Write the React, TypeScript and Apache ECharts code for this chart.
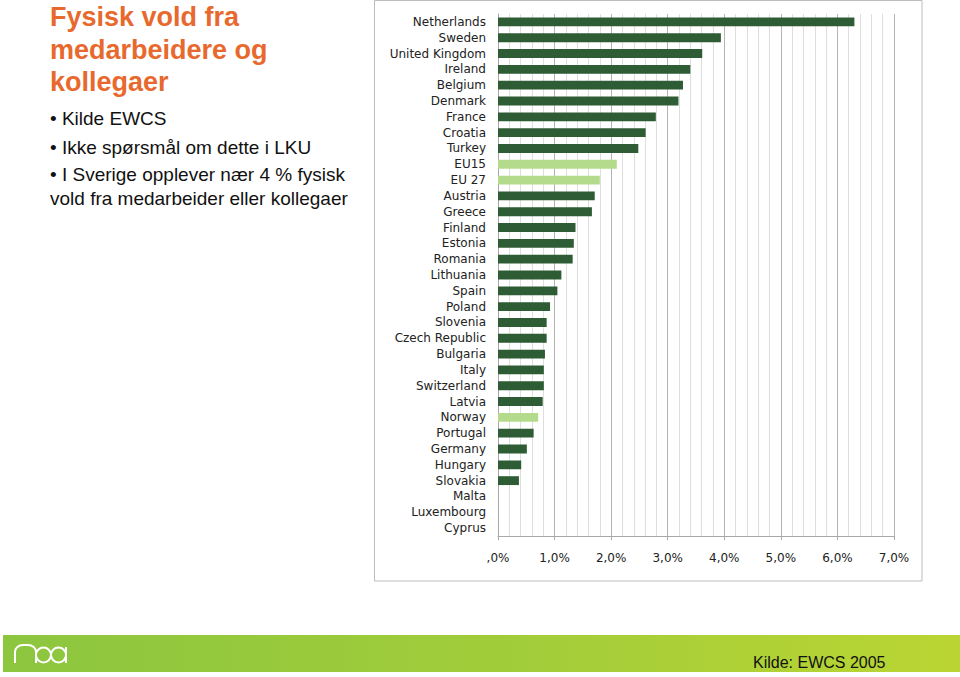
import React, { useEffect, useRef } from "react";
import * as echarts from "echarts";

const categories = [
  "Netherlands", "Sweden", "United Kingdom", "Ireland", "Belgium", "Denmark",
  "France", "Croatia", "Turkey", "EU15", "EU 27", "Austria", "Greece", "Finland",
  "Estonia", "Romania", "Lithuania", "Spain", "Poland", "Slovenia", "Czech Republic",
  "Bulgaria", "Italy", "Switzerland", "Latvia", "Norway", "Portugal", "Germany",
  "Hungary", "Slovakia", "Malta", "Luxembourg", "Cyprus",
];
const values = [
  6.3, 3.94, 3.61, 3.4, 3.27, 3.19, 2.79, 2.61, 2.48, 2.1, 1.8, 1.71, 1.66, 1.37,
  1.34, 1.32, 1.12, 1.05, 0.92, 0.86, 0.86, 0.83, 0.81, 0.81, 0.79, 0.71, 0.63,
  0.51, 0.41, 0.37, 0, 0, 0,
];
const highlighted = ["EU15", "EU 27", "Norway"];
const xTickLabels = [",0%", "1,0%", "2,0%", "3,0%", "4,0%", "5,0%", "6,0%", "7,0%"];

const titleLines = ["Fysisk vold fra", "medarbeidere og", "kollegaer"];
const bulletLines = [
  "• Kilde EWCS",
  "• Ikke spørsmål om dette i LKU",
  "• I Sverige opplever nær 4 % fysisk",
  "vold fra medarbeider eller kollegaer",
];
const sourceText = "Kilde: EWCS 2005";

const DARK = "#2E5C35";
const LIGHT = "#B4DB8C";

const logoPath =
  "M15 663 L15 652 A8 7 0 0 1 23 645 L28 645 A8 7 0 0 1 36 652 L36 663 " +
  "M51 655 A7.5 7.5 0 1 1 36 655 A7.5 7.5 0 1 1 51 655 " +
  "M66 655 A7.5 7.5 0 1 1 51 655 A7.5 7.5 0 1 1 66 655 M66 647 L66 663";

let registered = false;

export default function App() {
  const ref = useRef<HTMLDivElement>(null);

  useEffect(() => {
    document.body.style.margin = "0";
    if (!registered) {
      echarts.graphic.registerShape("logo", echarts.graphic.extendPath(logoPath, {}));
      registered = true;
    }
    const chart = echarts.init(ref.current!, undefined, { renderer: "svg" });

    const titleY = [17, 50, 82];
    const bulletY = [118, 147, 174, 198];

    const graphics: any[] = [
      {
        type: "rect",
        z: -10,
        shape: { x: 374.5, y: 0.5, width: 547.5, height: 580.5 },
        style: { fill: "#fff", stroke: "#bcbcbc", lineWidth: 1 },
      },
      ...titleLines.map((t, i) => ({
        type: "text",
        x: 50,
        y: titleY[i],
        style: {
          text: t,
          fill: "#E8692D",
          font: "bold 27px 'Liberation Sans', Arial, sans-serif",
          verticalAlign: "middle",
        },
      })),
      ...bulletLines.map((t, i) => ({
        type: "text",
        x: 50,
        y: bulletY[i],
        style: {
          text: t,
          fill: "#111",
          font: "19px 'Liberation Sans', Arial, sans-serif",
          verticalAlign: "middle",
        },
      })),
      {
        type: "rect",
        shape: { x: 3, y: 635, width: 957, height: 37 },
        style: {
          fill: new echarts.graphic.LinearGradient(0, 0, 1, 0, [
            { offset: 0, color: "#8CC63F" },
            { offset: 0.5, color: "#A0CC3A" },
            { offset: 1, color: "#BAD533" },
          ]),
        },
      },
      {
        type: "logo",
        x: 0,
        y: 0,
        style: { fill: "none", stroke: "#ffffff", lineWidth: 2 },
      },
      {
        type: "text",
        x: 753,
        y: 662,
        style: {
          text: sourceText,
          fill: "#111",
          font: "16px 'Liberation Sans', Arial, sans-serif",
          verticalAlign: "middle",
        },
      },
    ];

    chart.setOption({
      animation: false,
      backgroundColor: "#fff",
      grid: { left: 498, right: 66, top: 14, bottom: 141, containLabel: false },
      xAxis: {
        type: "value",
        min: 0,
        max: 7,
        interval: 1,
        axisLine: { show: true, lineStyle: { color: "#a8a8a8", width: 1 } },
        axisTick: { show: true, length: 4, lineStyle: { color: "#a8a8a8" } },
        axisLabel: {
          margin: 16,
          color: "#222",
          fontSize: 12,
          fontFamily: "'DejaVu Sans', sans-serif",
          formatter: (v: number) => xTickLabels[Math.round(v)] ?? "",
        },
        splitLine: { show: true, lineStyle: { color: "#b4b4b4", width: 1 } },
        minorTick: { show: false, splitNumber: 5 },
        minorSplitLine: { show: true, lineStyle: { color: "#dedede", width: 1 } },
      },
      yAxis: {
        type: "category",
        inverse: true,
        data: categories,
        axisLine: { show: true, lineStyle: { color: "#a8a8a8", width: 1 } },
        axisTick: { show: false },
        axisLabel: {
          margin: 12,
          color: "#222",
          fontSize: 12,
          fontFamily: "'DejaVu Sans', sans-serif",
        },
      },
      series: [
        {
          type: "bar",
          barCategoryGap: "44%",
          data: values.map((v, i) => ({
            value: v,
            itemStyle: { color: highlighted.includes(categories[i]) ? LIGHT : DARK },
          })),
        },
      ],
      graphic: graphics,
    });

    return () => chart.dispose();
  }, []);

  return <div ref={ref} style={{ width: 960, height: 677 }} />;
}
